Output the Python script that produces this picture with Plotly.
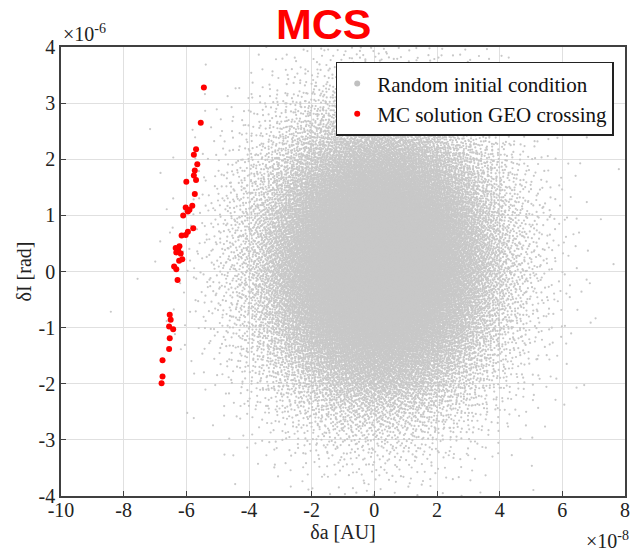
import numpy as np
import plotly.graph_objects as go

# MC solution GEO crossing points (delta a [1e-8 AU], delta I [1e-6 rad])
red_da = [-5.44, -5.54, -5.69, -5.76, -5.65, -5.73, -5.76, -5.69, -6.00, -5.73,
          -5.81, -6.02, -5.90, -5.95, -6.10, -5.78, -5.95, -6.02, -6.15, -6.22,
          -6.34, -6.26, -6.32, -6.18, -6.13, -6.23, -6.39, -6.32, -6.28, -6.53,
          -6.50, -6.55, -6.42, -6.53, -6.55, -6.76, -6.76, -6.79]
red_di = [3.28, 2.65, 2.18, 2.08, 1.91, 1.80, 1.71, 1.63, 1.60, 1.38,
          1.17, 1.14, 1.10, 1.07, 1.00, 0.77, 0.71, 0.65, 0.64, 0.45,
          0.42, 0.38, 0.34, 0.32, 0.22, 0.19, 0.09, 0.04, -0.15, -0.77,
          -0.86, -0.98, -1.03, -1.19, -1.38, -1.58, -1.87, -1.99]

# Cloud parameters (centre and spread)
cloud_center = [0.15, 0.2]
cloud_sigma = [1.9, 1.3]
cloud_count = 40000

xticks = [-10, -8, -6, -4, -2, 0, 2, 4, 6, 8]
yticks = [-4, -3, -2, -1, 0, 1, 2, 3, 4]


def halton(n, base):
    out = np.zeros(n)
    for i in range(n):
        f, r, k = 1.0, 0.0, i + 1
        while k > 0:
            f /= base
            r += f * (k % base)
            k //= base
        out[i] = r
    return out


u1 = halton(cloud_count, 2)
u2 = halton(cloud_count, 3)
rad = np.sqrt(-2 * np.log(np.clip(u1, 1e-12, 1)))
gx = np.round(cloud_center[0] + cloud_sigma[0] * rad * np.cos(2 * np.pi * u2), 3)
gy = np.round(cloud_center[1] + cloud_sigma[1] * rad * np.sin(2 * np.pi * u2), 3)

serif = "Liberation Serif"
txt = "#222"
fig = go.Figure()
fig.add_trace(go.Scatter(x=gx, y=gy, mode="markers", showlegend=False,
                         marker=dict(color="#c8c8c8", size=2.2, line=dict(width=0)),
                         hoverinfo="skip"))
fig.add_trace(go.Scatter(x=red_da, y=red_di, mode="markers", showlegend=False,
                         marker=dict(color="#ff0000", size=6, line=dict(width=0))))
fig.add_trace(go.Scatter(x=[None], y=[None], mode="markers", name="Random initial condition",
                         marker=dict(color="#c0c0c0", size=6)))
fig.add_trace(go.Scatter(x=[None], y=[None], mode="markers", name="MC solution GEO crossing",
                         marker=dict(color="#ff0000", size=6)))

axis_common = dict(showgrid=True, gridcolor="#e0e0e0", gridwidth=1, zeroline=False,
                   showline=True, linecolor="#404040", linewidth=1.5, mirror=True,
                   ticks="inside", ticklen=5, tickcolor="#404040",
                   ticklabeloverflow="allow",
                   tickfont=dict(family=serif, size=20, color=txt))

fig.update_layout(
    width=632, height=555,
    paper_bgcolor="white", plot_bgcolor="white",
    margin=dict(l=61, r=2, t=47, b=59),
    xaxis=dict(range=[-10, 8], tickvals=xticks, ticktext=[str(v) for v in xticks],
               ticklabelstandoff=-5,
               title=dict(text="δa [AU]", font=dict(family=serif, size=20, color=txt), standoff=0),
               **axis_common),
    yaxis=dict(range=[-4, 4], tickvals=yticks, ticktext=[str(v) for v in yticks],
               title=dict(text="δI [rad]", font=dict(family=serif, size=20, color=txt), standoff=2),
               **axis_common),
    legend=dict(x=0.98, y=0.967, xanchor="right", yanchor="top",
                bgcolor="white", bordercolor="#222", borderwidth=1.5,
                font=dict(family=serif, size=21, color="#111"),
                tracegroupgap=0, itemwidth=30),
    annotations=[
        dict(text="<b>MCS</b>", x=0.466, y=1.051, xref="paper", yref="paper",
             xanchor="center", yanchor="middle", showarrow=False,
             font=dict(family="Liberation Sans", size=43, color="#ff0000")),
        dict(text="×10<sup>-6</sup>", x=0, y=1, xref="x domain", yref="y domain",
             xanchor="left", yanchor="bottom", showarrow=False,
             font=dict(family=serif, size=20, color=txt)),
        dict(text="×10<sup>-8</sup>", x=1, y=0, xref="x domain", yref="y domain",
             xanchor="right", yanchor="top", yshift=-30, xshift=6, showarrow=False,
             font=dict(family=serif, size=20, color=txt)),
    ],
)

fig.write_html("out.html", config={"displayModeBar": False},
               post_script="document.body.style.margin='0';document.body.style.overflow='hidden';")
